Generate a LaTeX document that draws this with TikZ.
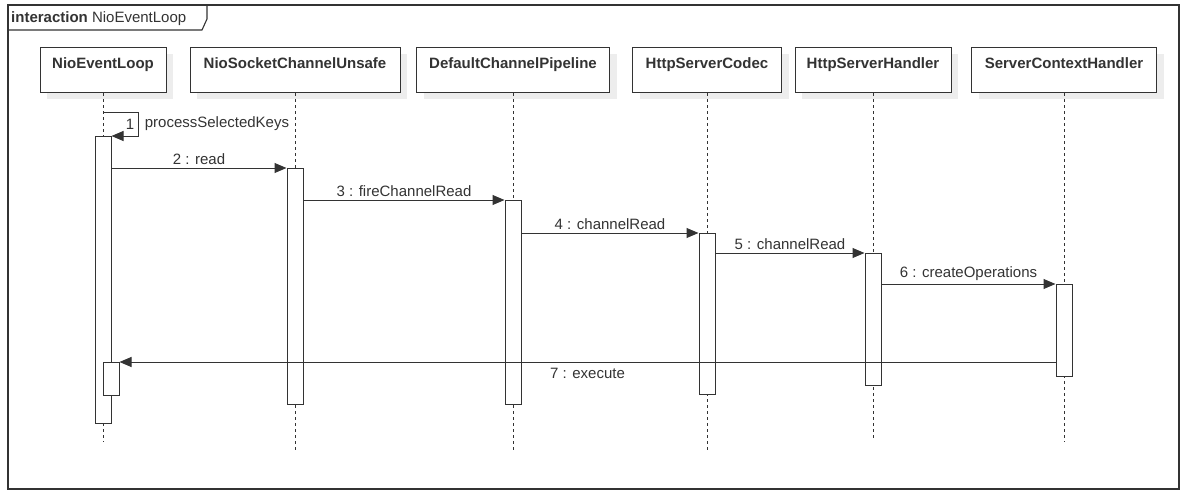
\documentclass[tikz,border=0pt]{standalone}
\usepackage{fontspec}
\setmainfont{Liberation Sans}
\usetikzlibrary{arrows.meta,shadows}
\begin{document}
\begin{tikzpicture}[
    x=1pt, y=-1pt,
    every node/.style={font=\fontsize{15}{18}\selectfont, text=black!80},
    head/.style={rectangle, draw=black!80, fill=white, anchor=north, font=\fontsize{15}{18}\selectfont\bfseries, text height=11pt, text depth=14pt, inner ysep=10pt, line width=1pt, drop shadow={shadow xshift=7pt, shadow yshift=-7pt, fill=black!7, opacity=1}},
    life/.style={draw=black!80, line width=1pt, dash pattern=on 3pt off 3pt},
    act/.style={rectangle, draw=black!80, fill=white, anchor=north, minimum width=16pt, inner sep=0pt, line width=1pt},
    line/.style={draw=black!80, line width=1pt, -{Triangle[length=12pt,width=10pt]}}
]
    \useasboundingbox (0,0) rectangle (1184,495);

    \draw [black!80, line width=1.3pt] (8,5) rectangle (1179,489);
    \draw [black!80, line width=1.1pt] (8,30) -- (202,30) -- (207,19) -- (207,5);
    \node [anchor=base west, inner sep=0pt] (title) at (11,22.5) {\textbf{interaction} NioEventLoop};

    \node [head, minimum width=126pt] (loop) at (103,47) {NioEventLoop};
    \node [head, minimum width=210pt] (unsafe) at (295,47) {NioSocketChannelUnsafe};
    \node [head, minimum width=193pt] (pipeline) at (513,47) {DefaultChannelPipeline};
    \node [head, minimum width=149pt] (codec) at (707,47) {HttpServerCodec};
    \node [head, minimum width=156pt] (handler) at (873,47) {HttpServerHandler};
    \node [head, minimum width=185pt] (context) at (1064,47) {ServerContextHandler};

    \coordinate (loopend) at (103,442);
    \coordinate (unsafeend) at (295,450);
    \coordinate (pipelineend) at (513,450);
    \coordinate (codecend) at (707,450);
    \coordinate (handlerend) at (873,440);
    \coordinate (contextend) at (1064,442);

    \draw [life] (loop) -- (loopend);
    \draw [life] (unsafe) -- (unsafeend);
    \draw [life] (pipeline) -- (pipelineend);
    \draw [life] (codec) -- (codecend);
    \draw [life] (handler) -- (handlerend);
    \draw [life] (context) -- (contextend);

    \node [act, minimum height=287pt] (a1) at (103,136) {};
    \node [act, minimum height=33pt] (a1b) at (111,362) {};
    \node [act, minimum height=236pt] (a2) at (295,168) {};
    \node [act, minimum height=204pt] (a3) at (513,200) {};
    \node [act, minimum height=161pt] (a4) at (707,233) {};
    \node [act, minimum height=132pt] (a5) at (873,253) {};
    \node [act, minimum height=92pt] (a6) at (1064,284) {};

    \coordinate (self) at (103,112);
    \draw [line] (self) -- ++(35,0) |- (a1.north east)
        node [pos=.25, left] {1} node [pos=.25, right=3pt] {processSelectedKeys};
    \draw [line] (a1.east |- a2.north) -- (a2.north west) node [midway, above] {2 : read};
    \draw [line] (a2.east |- a3.north) -- (a3.north west) node [midway, above] {3 : fireChannelRead};
    \draw [line] (a3.east |- a4.north) -- (a4.north west) node [midway, above] {4 : channelRead};
    \draw [line] (a4.east |- a5.north) -- (a5.north west) node [midway, above] {5 : channelRead};
    \draw [line] (a5.east |- a6.north) -- (a6.north west) node [midway, above] {6 : createOperations};
    \draw [line] (a6.west |- a1b.north) -- (a1b.north east) node [midway, below=2pt] {7 : execute};
\end{tikzpicture}
\end{document}
